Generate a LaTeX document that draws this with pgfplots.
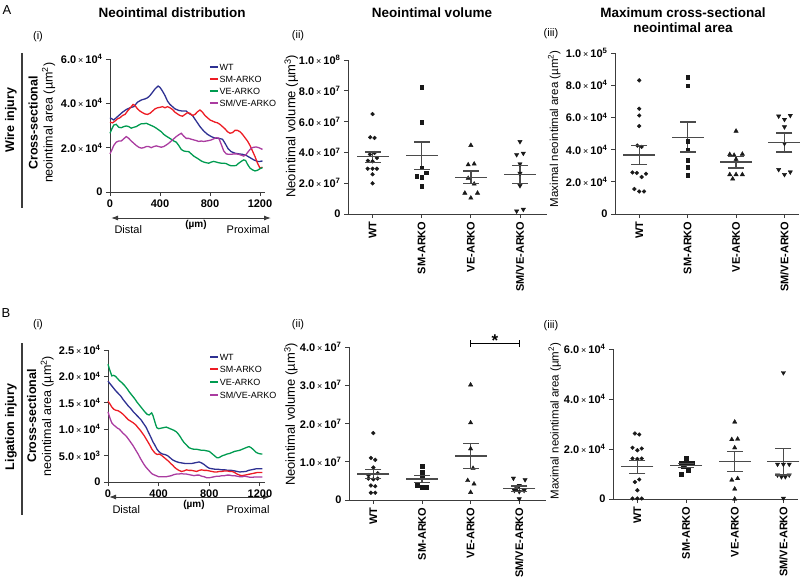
\documentclass[border=0pt]{standalone}
\usepackage{fontspec}
\setmainfont{Liberation Sans}
\usepackage{pgfplots}
\pgfplotsset{compat=1.18}
\usetikzlibrary{arrows.meta}

\definecolor{cWT}{RGB}{46,49,146}
\definecolor{cSM}{RGB}{237,28,36}
\definecolor{cVE}{RGB}{0,155,80}
\definecolor{cSMVE}{RGB}{170,60,160}
\definecolor{axgray}{RGB}{60,60,60}
\definecolor{meangray}{RGB}{75,75,75}
\definecolor{dotc}{RGB}{25,25,25}

\newcommand{\fs}[2]{\fontsize{#1}{#2}\selectfont}
\newcommand{\sci}[2]{\textbf{#1}\hspace{2pt}{\mdseries\fs{9}{9}×}\hspace{2pt}\textbf{10}\textsuperscript{\textbf{#2}}}
% SEM bar: x, top, bottom
\newcommand{\semb}[3]{%
  \addplot[meangray, line width=1.4pt, mark=none] coordinates {(#1,#2)(#1,#3)};
  \addplot[only marks, mark=-, mark size=8pt, meangray, line width=1.4pt] coordinates {(#1,#2)(#1,#3)};
}
% legend row: x-frac, y-frac, colour, text
\newcommand{\lgrow}[4]{%
  \draw[#3, line width=1.6pt] (axis description cs:#1,#2) -- ++(8pt,0pt);
  \node[anchor=west, text=black, font=\fs{9}{9}, inner sep=1.5pt] at ([xshift=8pt]axis description cs:#1,#2) {#4};
}

\pgfplotsset{
  base/.style={scale only axis, anchor=south west, clip=false,
    axis x line*=bottom, axis y line*=left,
    axis line style={axgray, line width=0.9pt},
    tick style={axgray, line width=0.9pt},
    tick align=outside, major tick length=4pt,
    /pgf/number format/assume math mode=true,
    /pgf/number format/1000 sep={},
    ticklabel style={font=\fs{11}{11}\bfseries},
  },
  linechart/.style={base, xmin=0, xmax=1240, ymin=0,
    xtick={0,400,800,1200},
    ylabel style={align=center, anchor=center, font=\fs{12.5}{15}},
  },
  dotplot/.style={base, xmin=-0.5, ymin=0,
    xtick={0,1,2,3},
    xticklabels={WT,SM-ARKO,VE-ARKO,SM/VE-ARKO},
    xticklabel style={rotate=90, anchor=east, font=\fs{11}{11}\bfseries},
    ylabel style={anchor=center},
  },
  dots/.style={only marks, dotc, mark size=1.9pt, mark options={fill=dotc, draw=dotc}},
  meanline/.style={only marks, mark=-, mark size=16pt, meangray, line width=1.4pt},
}

\begin{document}
\begin{tikzpicture}
\useasboundingbox (0pt,0pt) rectangle (800pt,-583pt);

% ---------- headings ----------
\node[font=\fs{13}{13}] at (7pt,-10pt) {A};
\node[font=\fs{13}{13}] at (6pt,-313pt) {B};
\node[font=\fs{13.5}{15}\bfseries] at (172pt,-13pt) {Neointimal distribution};
\node[font=\fs{13.5}{15}\bfseries] at (432pt,-13pt) {Neointimal volume};
\node[font=\fs{13.5}{15}\bfseries, align=center] at (683pt,-20pt) {Maximum cross-sectional\\neointimal area};
\node[font=\fs{11}{11}] at (38pt,-37pt) {(i)};
\node[font=\fs{11}{11}] at (298pt,-36pt) {(ii)};
\node[font=\fs{11}{11}] at (551pt,-34pt) {(iii)};
\node[font=\fs{11}{11}] at (38pt,-325pt) {(i)};
\node[font=\fs{11}{11}] at (298pt,-325pt) {(ii)};
\node[font=\fs{11}{11}] at (551pt,-326pt) {(iii)};

\node[rotate=90, font=\fs{12.5}{13}\bfseries] at (11pt,-120pt) {Wire injury};
\draw[line width=1.2pt, axgray] (22pt,-53pt) -- (22pt,-208pt);
\node[rotate=90, font=\fs{12.5}{13}\bfseries] at (11pt,-427pt) {Ligation injury};
\draw[line width=1.2pt, axgray] (22pt,-343pt) -- (22pt,-515pt);

% arrows under line charts
\draw[{Latex[length=7pt,width=5pt]}-{Latex[length=7pt,width=5pt]}, line width=1pt, axgray] (111pt,-218pt) -- (271pt,-218pt);
\node[anchor=west, font=\fs{11}{11}] at (111pt,-230pt) {Distal};
\node[font=\fs{10}{10}\bfseries] at (196pt,-225pt) {(µm)};
\node[anchor=east, font=\fs{11}{11}] at (273pt,-230pt) {Proximal};
\draw[{Latex[length=7pt,width=5pt]}-{Latex[length=7pt,width=5pt]}, line width=1pt, axgray] (109pt,-497pt) -- (270pt,-497pt);
\node[anchor=west, font=\fs{11}{11}] at (109pt,-510pt) {Distal};
\node[font=\fs{10}{10}\bfseries] at (194pt,-505pt) {(µm)};
\node[anchor=east, font=\fs{11}{11}] at (273pt,-510pt) {Proximal};

% ================= A(i) =================
\begin{axis}[linechart, at={(110pt,-192pt)}, width=155pt, height=133pt,
  ymax=6, ytick={0,2,4,6},
  yticklabels={0,\sci{2.0}{4},\sci{4.0}{4},\sci{6.0}{4}},
  ylabel={\textbf{Cross-sectional}\\neointimal area (µm\textsuperscript{2})},
  ylabel style={at={(axis description cs:-0.44,0.52)}}]
\addplot[cWT, line width=1.3pt] coordinates {(0,3.35)(15,3.3)(30,3.25)(50,3.35)(70,3.45)(100,3.6)(130,3.72)(160,3.8)(190,3.85)(220,4.05)(250,4.15)(280,4.2)(300,4.25)(320,4.35)(340,4.5)(360,4.65)(385,4.78)(400,4.72)(420,4.55)(440,4.35)(460,4.1)(480,3.95)(500,3.85)(520,3.75)(550,3.68)(580,3.65)(610,3.65)(630,3.55)(660,3.45)(690,3.2)(720,2.95)(750,2.75)(780,2.6)(810,2.5)(840,2.43)(870,2.42)(900,2.38)(920,2.2)(945,1.95)(970,1.82)(1000,1.75)(1030,1.72)(1060,1.7)(1090,1.65)(1120,1.55)(1150,1.45)(1180,1.38)(1200,1.38)(1220,1.4)};
\addplot[cSM, line width=1.3pt] coordinates {(0,3.15)(20,3.12)(40,3.2)(60,3.3)(80,3.35)(100,3.45)(120,3.5)(140,3.65)(160,3.78)(185,3.95)(200,3.9)(220,3.75)(240,3.65)(260,3.58)(280,3.52)(300,3.5)(320,3.55)(340,3.65)(360,3.75)(380,3.8)(400,3.82)(420,3.85)(440,3.8)(460,3.85)(480,3.8)(500,3.72)(520,3.6)(540,3.52)(560,3.45)(580,3.42)(600,3.5)(620,3.58)(640,3.55)(660,3.45)(680,3.5)(700,3.62)(720,3.7)(740,3.6)(760,3.45)(780,3.35)(800,3.25)(820,3.2)(840,3.15)(860,3.12)(880,3.05)(900,2.95)(920,2.85)(940,2.72)(960,2.65)(980,2.68)(1000,2.78)(1020,2.78)(1040,2.72)(1060,2.6)(1080,2.45)(1100,2.3)(1120,2.1)(1140,1.85)(1160,1.6)(1180,1.3)(1200,1.08)(1220,1.12)};
\addplot[cVE, line width=1.3pt] coordinates {(0,2.65)(15,2.85)(30,3.02)(50,3.05)(70,2.92)(90,2.9)(110,2.95)(130,2.98)(150,2.95)(170,2.88)(190,2.92)(210,2.95)(230,3.02)(250,3.08)(270,3.08)(290,3.1)(310,3.05)(330,3.0)(350,2.95)(370,2.88)(390,2.8)(410,2.72)(430,2.6)(450,2.52)(470,2.45)(490,2.38)(510,2.3)(530,2.25)(550,2.1)(570,1.92)(590,1.85)(610,1.83)(630,1.82)(650,1.72)(670,1.62)(690,1.55)(710,1.48)(730,1.4)(750,1.35)(770,1.32)(790,1.3)(810,1.35)(830,1.38)(850,1.35)(870,1.32)(890,1.3)(910,1.3)(930,1.28)(950,1.22)(970,1.18)(990,1.18)(1010,1.2)(1030,1.3)(1050,1.38)(1070,1.45)(1085,1.42)(1100,1.25)(1120,1.08)(1140,1.0)(1160,0.95)(1180,0.98)(1200,1.05)(1220,1.1)};
\addplot[cSMVE, line width=1.3pt] coordinates {(0,1.72)(15,1.9)(30,2.1)(50,2.25)(70,2.3)(90,2.3)(110,2.4)(130,2.5)(150,2.42)(170,2.3)(190,2.2)(210,2.1)(230,2.02)(250,1.98)(270,2.0)(290,2.05)(310,2.05)(330,2.0)(350,2.05)(370,2.08)(390,2.05)(410,2.02)(430,2.05)(450,2.12)(470,2.2)(490,2.3)(510,2.4)(530,2.5)(550,2.58)(570,2.65)(590,2.52)(610,2.42)(630,2.42)(650,2.38)(670,2.35)(690,2.32)(710,2.28)(730,2.3)(750,2.28)(770,2.3)(790,2.32)(810,2.35)(830,2.4)(850,2.45)(870,2.43)(890,2.15)(910,1.85)(930,1.72)(950,1.7)(970,1.7)(990,1.72)(1010,1.72)(1030,1.7)(1050,1.66)(1070,1.62)(1090,1.7)(1110,1.85)(1130,1.98)(1150,2.02)(1170,2.03)(1190,2.0)(1210,1.95)(1220,1.92)};
\lgrow{0.645}{0.94}{cWT}{WT}
\lgrow{0.645}{0.85}{cSM}{SM-ARKO}
\lgrow{0.645}{0.76}{cVE}{VE-ARKO}
\lgrow{0.645}{0.67}{cSMVE}{SM/VE-ARKO}
\end{axis}

% ================= B(i) =================
\begin{axis}[linechart, at={(108pt,-482pt)}, width=157pt, height=132pt,
  ymax=25, ytick={0,5,10,15,20,25},
  yticklabels={0,\sci{5.0}{3},\sci{1.0}{4},\sci{1.5}{4},\sci{2.0}{4},\sci{2.5}{4}},
  ylabel={\textbf{Cross-sectional}\\neointimal area (µm\textsuperscript{2})},
  ylabel style={at={(axis description cs:-0.43,0.5)}}]
\addplot[cWT, line width=1.3pt] coordinates {(0,19.1)(20,18.5)(40,17.9)(60,17.3)(80,16.8)(100,16.3)(120,15.6)(140,15.0)(160,14.4)(180,13.9)(200,13.3)(220,12.8)(240,12.3)(260,11.8)(280,11.1)(300,10.4)(320,9.4)(340,8.4)(355,7.6)(370,7.0)(385,6.3)(400,5.8)(415,5.5)(430,5.3)(450,5.2)(470,5.0)(490,4.6)(510,4.2)(535,3.9)(560,3.7)(585,3.6)(610,3.5)(640,3.5)(660,3.5)(680,3.6)(700,3.7)(720,3.8)(740,3.6)(760,3.3)(780,2.9)(800,2.6)(825,2.5)(850,2.4)(875,2.4)(900,2.3)(925,2.3)(950,2.2)(975,2.2)(1000,2.1)(1020,2.0)(1040,1.9)(1065,1.95)(1090,2.0)(1110,2.2)(1130,2.3)(1150,2.4)(1170,2.5)(1200,2.5)(1220,2.5)};
\addplot[cSM, line width=1.3pt] coordinates {(0,15.3)(15,14.8)(30,14.2)(45,13.8)(60,13.6)(80,13.5)(100,13.2)(120,12.8)(140,12.3)(160,11.8)(180,11.5)(200,11.2)(220,10.8)(240,10.2)(255,9.8)(270,9.3)(285,8.8)(300,8.2)(315,7.6)(330,7.0)(345,6.3)(360,5.8)(375,5.4)(390,5.2)(405,5.3)(420,5.1)(435,4.8)(450,4.5)(465,4.2)(480,3.9)(495,3.5)(510,3.2)(525,2.8)(540,2.5)(560,2.2)(580,2.0)(600,2.1)(620,2.3)(640,2.2)(660,2.2)(680,2.1)(700,2.0)(720,2.2)(740,2.3)(760,2.2)(780,2.2)(800,2.1)(820,2.0)(840,1.9)(860,1.9)(880,2.0)(900,2.0)(920,2.1)(940,2.1)(960,2.0)(980,2.0)(1000,1.8)(1020,1.5)(1040,1.3)(1060,1.2)(1080,1.3)(1100,1.4)(1120,1.5)(1140,1.6)(1160,1.7)(1180,1.8)(1200,1.8)(1220,1.8)};
\addplot[cVE, line width=1.3pt] coordinates {(0,22.3)(10,21.5)(20,20.8)(30,20.1)(45,20.2)(60,20.0)(75,19.6)(90,19.2)(110,18.8)(130,18.3)(150,17.7)(170,17.0)(190,16.4)(210,15.8)(230,15.1)(250,14.5)(270,13.9)(290,13.3)(310,12.8)(325,12.7)(335,12.9)(345,13.1)(355,12.6)(365,11.8)(375,11.0)(385,10.3)(400,10.1)(420,10.2)(440,10.3)(460,10.4)(480,10.2)(500,10.0)(520,9.8)(540,9.5)(555,9.1)(570,8.6)(585,8.0)(600,7.5)(620,7.0)(640,6.5)(660,6.3)(680,6.2)(700,6.2)(720,6.1)(740,6.0)(760,6.0)(780,5.9)(800,5.8)(815,5.5)(830,5.2)(845,4.9)(860,4.6)(875,4.6)(890,4.8)(905,5.0)(920,5.1)(940,5.3)(960,5.4)(980,5.6)(1000,5.8)(1020,5.9)(1040,6.0)(1060,6.2)(1080,6.4)(1100,6.6)(1115,6.7)(1130,6.5)(1150,6.1)(1170,5.6)(1190,5.4)(1210,5.3)(1220,5.3)};
\addplot[cSMVE, line width=1.3pt] coordinates {(0,13.3)(10,12.5)(20,11.8)(30,11.2)(45,10.8)(60,10.5)(75,10.2)(90,10.0)(105,9.6)(120,9.2)(135,8.9)(150,8.5)(165,8.0)(180,7.5)(195,7.0)(210,6.4)(225,5.8)(240,5.2)(255,4.5)(270,3.9)(285,3.3)(300,2.8)(315,2.4)(330,2.0)(345,1.6)(360,1.4)(380,1.2)(400,1.0)(420,1.0)(440,1.0)(460,1.0)(480,1.1)(500,1.2)(520,1.4)(540,1.5)(560,1.5)(580,1.6)(600,1.5)(620,1.5)(640,1.4)(660,1.3)(680,1.2)(700,1.3)(720,1.3)(740,1.1)(760,1.0)(780,0.8)(800,0.8)(820,0.9)(840,1.0)(860,1.1)(880,1.1)(900,1.2)(920,1.2)(940,1.3)(960,1.3)(980,1.2)(1000,1.2)(1020,1.1)(1040,1.0)(1060,1.0)(1080,1.1)(1100,1.0)(1120,0.9)(1140,0.9)(1160,0.95)(1180,0.95)(1200,0.95)(1220,0.95)};
\lgrow{0.65}{0.947}{cWT}{WT}
\lgrow{0.65}{0.856}{cSM}{SM-ARKO}
\lgrow{0.65}{0.758}{cVE}{VE-ARKO}
\lgrow{0.65}{0.659}{cSMVE}{SM/VE-ARKO}
\end{axis}

% ================= A(ii) =================
\begin{axis}[dotplot, at={(348pt,-214pt)}, width=199pt, height=154pt,
  xmax=3.55, ymax=10, ytick={0,2,4,6,8,10},
  yticklabels={0,\sci{2.0}{7},\sci{4.0}{7},\sci{6.0}{7},\sci{8.0}{7},\sci{1.0}{8}},
  ylabel={Neointimal volume (µm\textsuperscript{3})},
  ylabel style={at={(axis description cs:-0.285,0.57)}, font=\fs{13}{13}}]
\addplot[dots, mark=*] coordinates {(0,6.49)(-0.048,4.98)(0.04,4.94)(-0.054,3.87)(0.04,3.96)(0.088,3.64)(-0.095,3.46)(0,3.42)(-0.1,2.94)(0,2.94)(0.088,2.94)(0,2.58)(0,1.99)};
\addplot[dots, mark=square*] coordinates {(1,8.23)(1,5.97)(1,3.01)(1.088,2.68)(0.9,2.45)(1,2.38)(1,1.80)};
\addplot[dots, mark=triangle*, mark size=2.5pt] coordinates {(2,4.46)(1.946,3.20)(2.068,3.25)(1.946,2.32)(2.068,1.95)(1.878,1.36)(2.136,1.36)(2,1.04)};
\addplot[dots, mark=triangle*, mark size=2.5pt, mark options={rotate=180}] coordinates {(3,4.70)(2.932,3.85)(3.068,3.94)(3,3.25)(3,2.64)(3,1.84)(2.932,0.19)(3.068,0.30)};
\addplot[meanline] coordinates {(0,3.72)(1,3.81)(2,2.38)(3,2.58)};
\semb{0}{4.03}{3.35}
\semb{1}{4.68}{2.90}
\semb{2}{2.79}{1.97}
\semb{3}{3.16}{1.97}
\end{axis}

% ================= A(iii) =================
\begin{axis}[dotplot, at={(615pt,-214pt)}, width=184pt, height=161pt,
  xmax=3.3, ymax=10, ytick={0,2,4,6,8,10},
  yticklabels={0,\sci{2.0}{4},\sci{4.0}{4},\sci{6.0}{4},\sci{8.0}{4},\sci{1.0}{5}},
  ylabel={Maximal neointimal area (µm\textsuperscript{2})},
  ylabel style={at={(axis description cs:-0.33,0.53)}, font=\fs{11.5}{11.5}}]
\addplot[dots, mark=*] coordinates {(0,8.30)(0,6.54)(0,6.12)(0,5.46)(-0.04,4.25)(0.05,4.17)(-0.14,2.58)(-0.05,2.55)(0.05,2.3)(0.14,2.5)(-0.1,1.55)(0,1.4)(0.1,1.4)};
\addplot[dots, mark=square*] coordinates {(1,8.49)(1,7.97)(1,4.52)(1,3.96)(1,3.32)(1,2.90)(1,2.39)};
\addplot[dots, mark=triangle*, mark size=2.5pt] coordinates {(2,5.15)(1.87,3.7)(1.96,3.65)(2.13,3.72)(2,3.4)(1.87,2.45)(2,2.45)(2.13,2.45)(1.93,2.18)};
\addplot[dots, mark=triangle*, mark size=2.5pt, mark options={rotate=180}] coordinates {(2.88,6.08)(3,5.87)(3.12,6.12)(3,5.41)(3,4.38)(2.88,2.76)(3,2.45)(3.12,2.61)};
\addplot[meanline] coordinates {(0,3.67)(1,4.77)(2,3.22)(3,4.44)};
\semb{0}{4.27}{3.07}
\semb{1}{5.71}{3.86}
\semb{2}{3.59}{2.86}
\semb{3}{5.02}{3.86}
\end{axis}

% ================= B(ii) =================
\begin{axis}[dotplot, at={(349pt,-500pt)}, width=197pt, height=153pt,
  xmax=3.55, ymax=4, ytick={0,1,2,3,4},
  yticklabels={0,\sci{1.0}{7},\sci{2.0}{7},\sci{3.0}{7},\sci{4.0}{7}},
  ylabel={Neointimal volume (µm\textsuperscript{3})},
  ylabel style={at={(axis description cs:-0.295,0.56)}, font=\fs{13}{13}}]
\addplot[dots, mark=*] coordinates {(0,1.75)(-0.05,1.1)(0.04,1.05)(0,0.85)(-0.1,0.65)(0.09,0.70)(-0.1,0.56)(0,0.54)(0.09,0.56)(-0.05,0.38)(0.04,0.36)(-0.05,0.19)(0.04,0.19)};
\addplot[dots, mark=square*] coordinates {(1,0.89)(1,0.73)(1,0.59)(0.9,0.38)(1,0.33)(1.09,0.33)};
\addplot[dots, mark=triangle*, mark size=2.5pt] coordinates {(2,3.01)(2,2.02)(2,1.34)(2.05,0.83)(1.94,0.51)(2.07,0.42)(2,0.20)};
\addplot[dots, mark=triangle*, mark size=2.5pt, mark options={rotate=180}] coordinates {(2.88,0.57)(3.12,0.53)(3,0.38)(2.95,0.3)(2.9,0.25)(3,0.22)(3.1,0.25)(3,0.03)};
\addplot[meanline] coordinates {(0,0.675)(1,0.55)(2,1.15)(3,0.30)};
\semb{0}{0.79}{0.57}
\semb{1}{0.64}{0.46}
\semb{2}{1.48}{0.82}
\semb{3}{0.37}{0.23}
\addplot[black, line width=1.1pt, mark=none] coordinates {(2,4.09)(3,4.09)};
\addplot[black, line width=1.1pt, mark=none] coordinates {(2,4.0)(2,4.18)};
\addplot[black, line width=1.1pt, mark=none] coordinates {(3,4.0)(3,4.18)};
\node[font=\fs{17}{17}\bfseries] at (axis cs:2.5,4.16) {*};
\end{axis}

% ================= B(iii) =================
\begin{axis}[dotplot, at={(613pt,-499pt)}, width=185pt, height=150pt,
  xmax=3.3, ymax=6, ytick={0,2,4,6},
  yticklabels={0,\sci{2.0}{4},\sci{4.0}{4},\sci{6.0}{4}},
  ylabel={Maximal neointimal area (µm\textsuperscript{2})},
  ylabel style={at={(axis description cs:-0.315,0.52)}, font=\fs{11.5}{11.5}}]
\addplot[dots, mark=*] coordinates {(-0.05,2.62)(0.04,2.58)(-0.1,2.05)(0,1.95)(0.09,2.02)(-0.1,1.62)(0,1.6)(0.09,1.62)(0.04,0.78)(-0.05,0.68)(0,0.35)(-0.1,0.02)(0,0.02)(0.09,0.02)};
\addplot[dots, mark=square*] coordinates {(1,1.62)(0.9,1.44)(0.97,1.42)(1.04,1.42)(1.12,1.45)(0.95,1.3)(1.05,1.15)(0.9,1.0)};
\addplot[dots, mark=triangle*, mark size=2.5pt] coordinates {(2,3.08)(1.94,2.38)(2.06,2.40)(2,2.05)(1.94,0.76)(2.06,0.82)(2,0.40)(2,0.0)};
\addplot[dots, mark=triangle*, mark size=2.5pt, mark options={rotate=180}] coordinates {(3,5.05)(2.88,1.39)(3,1.39)(3.12,1.39)(2.88,0.96)(2.96,0.89)(3.04,0.89)(3.12,0.96)(3,0.03)};
\addplot[meanline] coordinates {(0,1.29)(1,1.34)(2,1.49)(3,1.49)};
\semb{0}{1.55}{1.02}
\semb{1}{1.41}{1.26}
\semb{2}{1.89}{1.09}
\semb{3}{2.02}{0.96}
\end{axis}
\end{tikzpicture}
\end{document}
